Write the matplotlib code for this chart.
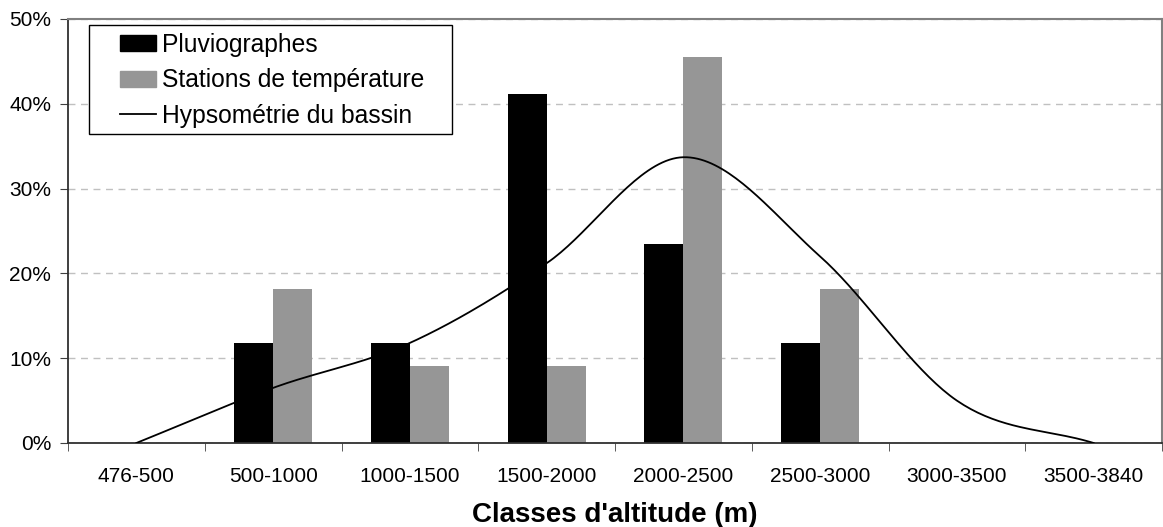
import numpy as np
import matplotlib.pyplot as plt
from matplotlib.lines import Line2D
from matplotlib.patches import Patch, Rectangle
from matplotlib.ticker import PercentFormatter

plt.rcParams['font.family'] = ['Liberation Sans', 'DejaVu Sans']

classes = ["476-500", "500-1000", "1000-1500", "1500-2000",
           "2000-2500", "2500-3000", "3000-3500", "3500-3840"]
pluviographes = [0, 11.8, 11.8, 41.2, 23.5, 11.8, 0, 0]
stations_temp = [0, 18.2, 9.1, 9.1, 45.5, 18.2, 0, 0]
hypsometrie = [0, 6.5, 11.8, 21.2, 33.7, 22.0, 5.0, 0]


def smooth(x, y, n=40):
    # catmull-rom, like the excel "smoothed line"
    x = np.asarray(x, float)
    y = np.asarray(y, float)
    px = np.concatenate([[2 * x[0] - x[1]], x, [2 * x[-1] - x[-2]]])
    py = np.concatenate([[2 * y[0] - y[1]], y, [2 * y[-1] - y[-2]]])
    xs, ys = [], []
    t = np.linspace(0, 1, n)
    for i in range(1, len(px) - 2):
        for p, out in ((px, xs), (py, ys)):
            p0, p1, p2, p3 = p[i - 1], p[i], p[i + 1], p[i + 2]
            out.extend(0.5 * (2 * p1 + (-p0 + p2) * t
                              + (2 * p0 - 5 * p1 + 4 * p2 - p3) * t ** 2
                              + (-p0 + 3 * p1 - 3 * p2 + p3) * t ** 3))
    return np.array(xs), np.array(ys)


fig = plt.figure(figsize=(11.63, 5.27), dpi=100)
ax = fig.add_axes([68 / 1163, 84 / 527, 1094 / 1163, 424 / 527])

x = np.arange(len(classes))
w = 0.286
ax.bar(x - w / 2, pluviographes, w, color="black", zorder=2)
ax.bar(x + w / 2, stations_temp, w, color="#969696", zorder=2)
sx, sy = smooth(x, hypsometrie)
ax.plot(sx, sy, color="black", lw=1.3, zorder=3)

ax.set_xlim(-0.5, len(classes) - 0.5)
ax.set_ylim(0, 50)
ax.set_yticks(range(0, 51, 10))
ax.yaxis.set_major_formatter(PercentFormatter(decimals=0))
ax.set_xticks(x)
ax.set_xticklabels(classes)
ax.set_xticks(np.arange(-0.5, len(classes), 1), minor=True)
ax.tick_params(axis="x", which="major", length=0, pad=17, labelsize=15)
ax.tick_params(axis="x", which="minor", length=6, color="#404040")
ax.tick_params(axis="y", length=6, pad=6, labelsize=15, color="#404040")
ax.yaxis.grid(True, ls=(0, (5, 4)), color="#c0c0c0", lw=1)
ax.set_axisbelow(True)

for s in ("top", "right"):
    ax.spines[s].set_color("#808080")
    ax.spines[s].set_linewidth(1.5)
for s in ("left", "bottom"):
    ax.spines[s].set_color("#303030")
    ax.spines[s].set_linewidth(1.3)

ax.set_xlabel("Classes d'altitude (m)", fontsize=20, fontweight="bold", labelpad=12)

# legend box
ax.add_patch(Rectangle((21 / 1094, 309 / 424), 363 / 1094, 109 / 424,
                       transform=ax.transAxes, facecolor="white",
                       edgecolor="black", lw=1.0, zorder=4, clip_on=False))
handles = [Patch(color="black"), Patch(color="#969696"),
           Line2D([], [], color="black", lw=1.3)]
leg = ax.legend(handles, ["Pluviographes", "Stations de température", "Hypsométrie du bassin"],
                loc="upper left", bbox_to_anchor=(52 / 1094, 410 / 424), fontsize=17.7,
                frameon=False, handlelength=1.46, handleheight=0.62,
                handletextpad=0.25, borderpad=0, labelspacing=0.46, borderaxespad=0)
leg.set_zorder(5)

fig.savefig("out.png", dpi=100)
